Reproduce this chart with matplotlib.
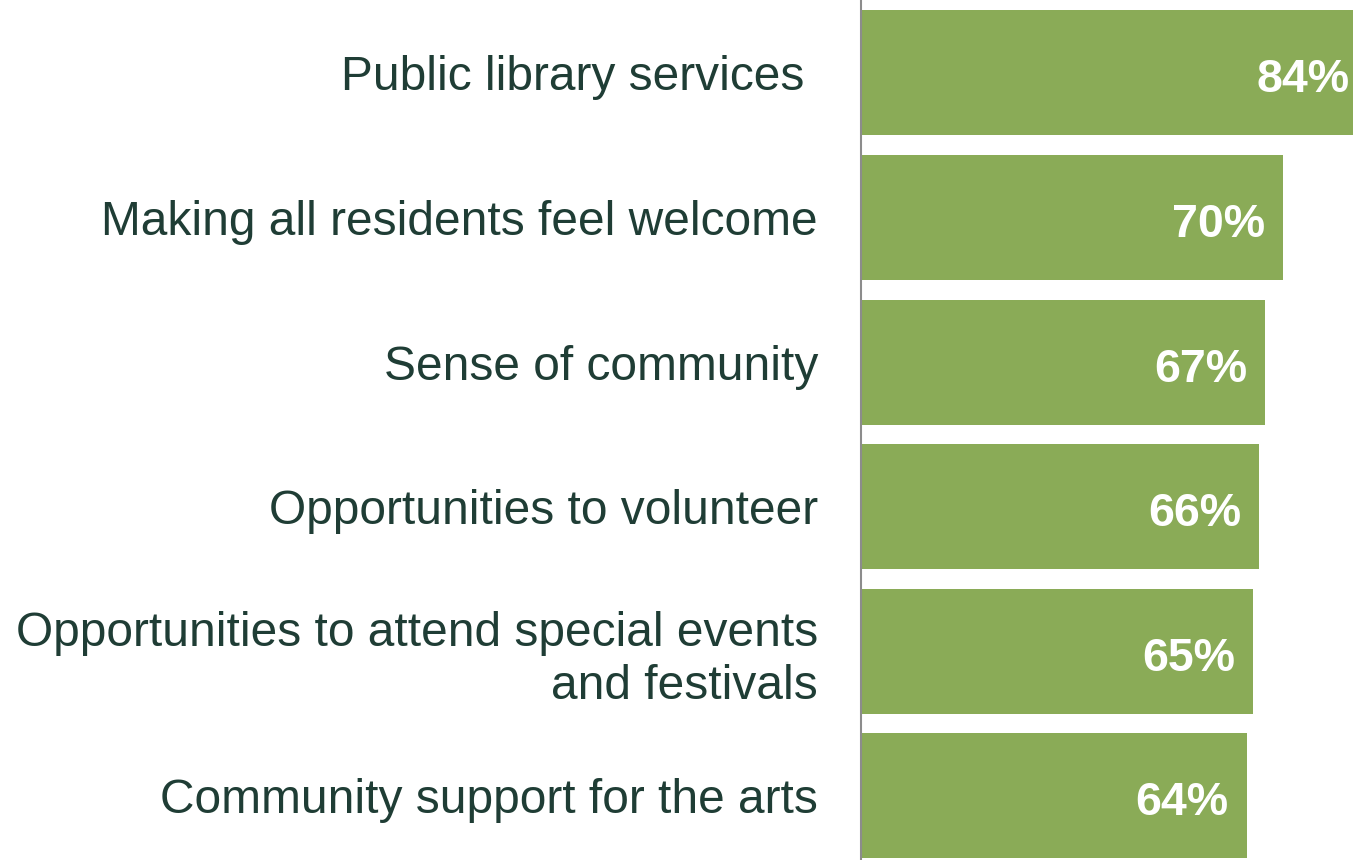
import matplotlib
matplotlib.use("Agg")
import matplotlib.pyplot as plt

categories = [
    "Public library services ",
    "Making all residents feel welcome",
    "Sense of community",
    "Opportunities to volunteer",
    "Opportunities to attend special events\nand festivals",
    "Community support for the arts",
]
values = [84, 70, 67, 66, 65, 64]
value_labels = ["84%", "70%", "67%", "66%", "65%", "64%"]

plt.rcParams['font.family'] = ['Liberation Sans', 'DejaVu Sans']

fig = plt.figure(figsize=(13.53, 8.6), dpi=100)
ax = fig.add_axes([861 / 1353, 0, 1 - 861 / 1353, 1])

bar_color = "#8aab57"
text_color = "#1f3d35"

ypos = list(range(len(categories)))
ax.barh(ypos, values, height=0.865, color=bar_color, clip_on=False)

ax.set_xlim(0, 81.6)
ax.set_ylim(5.446, -0.505)

for y, v, lab in zip(ypos, values, value_labels):
    ax.annotate(lab, xy=(v, y), xytext=(-13, -5.4), textcoords="offset points",
                ha="right", va="center", color="white", fontsize=33.5,
                fontweight="bold", annotation_clip=False)

ax.set_yticks(ypos)
ax.set_yticklabels(categories, fontsize=34.5, color=text_color, linespacing=1.23)
ax.tick_params(axis="y", length=0, pad=31)
ax.set_xticks([])

for s in ["top", "right", "bottom"]:
    ax.spines[s].set_visible(False)
ax.spines["left"].set_color("#8c8c8c")
ax.spines["left"].set_linewidth(1.5)

fig.savefig("out.png", dpi=100)
